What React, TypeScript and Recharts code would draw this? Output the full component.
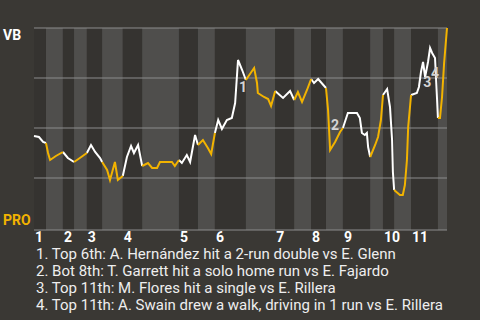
import { LineChart, Line, XAxis, YAxis, ReferenceArea, ReferenceLine, ReferenceDot } from "recharts";

// game progress (% of game) and VB win probability (%) at each play
const progress = [
  0, 1.2, 2.2, 2.9, // top 1
  3.4, 3.9, 5.3, 7.0, // bot 1
  8.2, 9.7, // top 2
  11.1, 12.8, // bot 2
  13.8, 14.8, 16.0, 16.5, // top 3
  17.7, 18.4, 19.6, 20.3, 21.5, // bot 3
  22.5, 23.5, 24.2, 25.2, 26.2, // top 4
  27.6, 28.6, 29.8, 30.5, 33.4, 34.1, 35.1, // bot 4
  35.8, 37.0, 37.8, 39.0, 39.7, // top 5
  40.9, 42.1, 42.9, 43.8, // bot 5
  44.6, 45.5, 46.7, 47.9, 48.7, 49.4, 50.4, 51.3, // top 6
  53.3, 54.0, 54.2, 55.7, 56.7, 57.4, 58.4, // bot 6
  60.3, 62.0, 63.0, // top 7
  63.9, 64.9, 66.1, 67.1, // bot 7
  67.8, 68.8, 70.7, // top 8
  71.2, 71.7, 72.9, 74.1, 74.8, // bot 8
  76.0, 78.2, 78.9, 79.4, 80.1, 80.6, 80.9, 81.4, // top 9
  82.6, 83.3, 84.0, 84.5, // bot 9
  85.5, 86.2, 86.7, 86.9, 87.2, // top 10
  88.6, 89.3, 89.8, 90.3, 90.6, 91.3, // bot 10
  92.7, 93.2, 93.7, 94.2, 94.7, 95.4, 95.9, 96.4, 97.1, 97.6, 97.8, // top 11
  98.3, 98.8, 99.3, 100, // bot 11
];

const vbWinPct = [
  46, 45.5, 43, 42.5,
  37.5, 34, 36, 38,
  35, 33,
  35, 37.5,
  41.5, 38, 35, 33,
  29, 24, 33, 24, 26,
  35.5, 41, 37.5, 41.5, 31,
  32.5, 30, 30, 33, 33, 31, 34,
  32.5, 36.5, 33, 46.5, 41.5,
  44, 40, 37, 47.5,
  54, 49.5, 54, 55, 62.5, 84, 79, 74,
  80, 72.5, 67.5, 65.5, 64.5, 61, 68.5,
  65, 68.5, 64,
  68, 63, 69, 74.5,
  72.5, 74.5, 70,
  59, 39, 43, 48, 50,
  57.5, 57.5, 55, 47.5, 46.5, 47.5, 40.5, 35.5,
  41.5, 45.5, 54, 66.5,
  69.5, 60.5, 44, 28, 19,
  16.5, 16.5, 21.5, 34, 50.5, 66.5,
  67.5, 70.5, 78, 83, 75.5, 83, 90, 87.5, 85, 64, 55,
  55, 65.5, 82.5, 100,
];

// start of each half inning (top 1, bot 1, top 2, ...) and the end of the game
const halfBounds = [0, 2.9, 7.0, 9.7, 12.8, 16.5, 21.5, 26.2, 35.1, 39.7, 43.8, 51.3, 58.4, 63.0, 67.1, 70.7, 74.8, 81.4, 84.5, 87.2, 91.3, 97.8, 100];
const innings = ["1", "2", "3", "4", "5", "6", "7", "8", "9", "10", "11"];

const markX = [50.6, 72.9, 95.2, 97.1];
const markY = [70.5, 51.5, 73, 77.5];
const notes = [
  "1. Top 6th: A. Hernández hit a 2-run double vs E. Glenn",
  "2. Bot 8th: T. Garrett hit a solo home run vs E. Fajardo",
  "3. Top 11th: M. Flores hit a single vs E. Rillera",
  "4. Top 11th: A. Swain drew a walk, driving in 1 run vs E. Rillera",
];

const BG = "#3a3834";
const DARK = "#353330";
const LIGHT = "#4f4e4c";
const GRID = "#8c8c8c";
const GOLD = "#f2b300";
const FONT = "Roboto, sans-serif";

const inningStarts = halfBounds.filter((_, i) => i % 2 === 0 && i < halfBounds.length - 1);

function halfAt(x) {
  let k = 0;
  for (let j = 1; j < halfBounds.length - 1; j++) if (x >= halfBounds[j]) k = j;
  return k;
}

const rows = progress.map((x) => ({ x, top: null, bot: null }));
for (let i = 0; i < progress.length - 1; i++) {
  const key = halfAt((progress[i] + progress[i + 1]) / 2) % 2 === 0 ? "top" : "bot";
  rows[i][key] = vbWinPct[i];
  rows[i + 1][key] = vbWinPct[i + 1];
}

const InningTick = ({ x, y, payload }) => (
  <text x={x} y={y} dx={1} dy={11.5} textAnchor="start" fill="#fff" fontSize={14} fontWeight="bold" fontFamily={FONT}>
    {innings[inningStarts.indexOf(payload.value)]}
  </text>
);

export default function App() {
  return (
    <div style={{ position: "absolute", left: 0, top: 0, width: 480, height: 320, background: BG, fontFamily: FONT, overflow: "hidden" }}>
      <div style={{ position: "absolute", left: 3, top: 27.5, fontSize: 14, lineHeight: "14px", fontWeight: "bold", color: "#fff" }}>VB</div>
      <div style={{ position: "absolute", left: 3, top: 212.5, fontSize: 14, lineHeight: "14px", fontWeight: "bold", color: GOLD }}>PRO</div>
      <LineChart width={480} height={250} data={rows} margin={{ top: 28, right: 33, bottom: 0, left: 34 }}>
        <XAxis
          dataKey="x"
          type="number"
          domain={[0, 100]}
          ticks={inningStarts}
          interval={0}
          height={20}
          tickSize={0}
          tickMargin={0}
          tickLine={false}
          axisLine={{ stroke: GRID }}
          tick={InningTick}
        />
        <YAxis type="number" domain={[-1, 100]} ticks={[25, 50, 75, 100]} width={0} tick={false} tickLine={false} axisLine={{ stroke: GRID }} />
        {halfBounds.slice(0, -1).map((b, i) => (
          <ReferenceArea key={"h" + i} x1={b} x2={halfBounds[i + 1]} y1={-1} y2={100} fill={i % 2 ? LIGHT : DARK} fillOpacity={1} stroke="none" />
        ))}
        {[25, 50, 75, 100].map((v) => (
          <ReferenceLine key={"g" + v} y={v} stroke={GRID} strokeWidth={1} />
        ))}
        <Line dataKey="top" stroke="#fff" strokeWidth={2} dot={false} activeDot={false} connectNulls={false} isAnimationActive={false} />
        <Line dataKey="bot" stroke={GOLD} strokeWidth={2} dot={false} activeDot={false} connectNulls={false} isAnimationActive={false} />
        {markX.map((mx, i) => (
          <ReferenceDot
            key={"m" + i}
            x={mx}
            y={markY[i]}
            r={6}
            shape={(p) => (
              <text x={p.cx} y={p.cy} dy={5} textAnchor="middle" fill="#d4d4d4" fontSize={14} fontWeight="bold" fontFamily={FONT}>
                {String(i + 1)}
              </text>
            )}
          />
        ))}
      </LineChart>
      <div style={{ position: "absolute", left: 36, top: 246, fontSize: 15, lineHeight: "17px", color: "#eeeeee", whiteSpace: "nowrap" }}>
        {notes.map((n) => (
          <div key={n}>{n}</div>
        ))}
      </div>
    </div>
  );
}
